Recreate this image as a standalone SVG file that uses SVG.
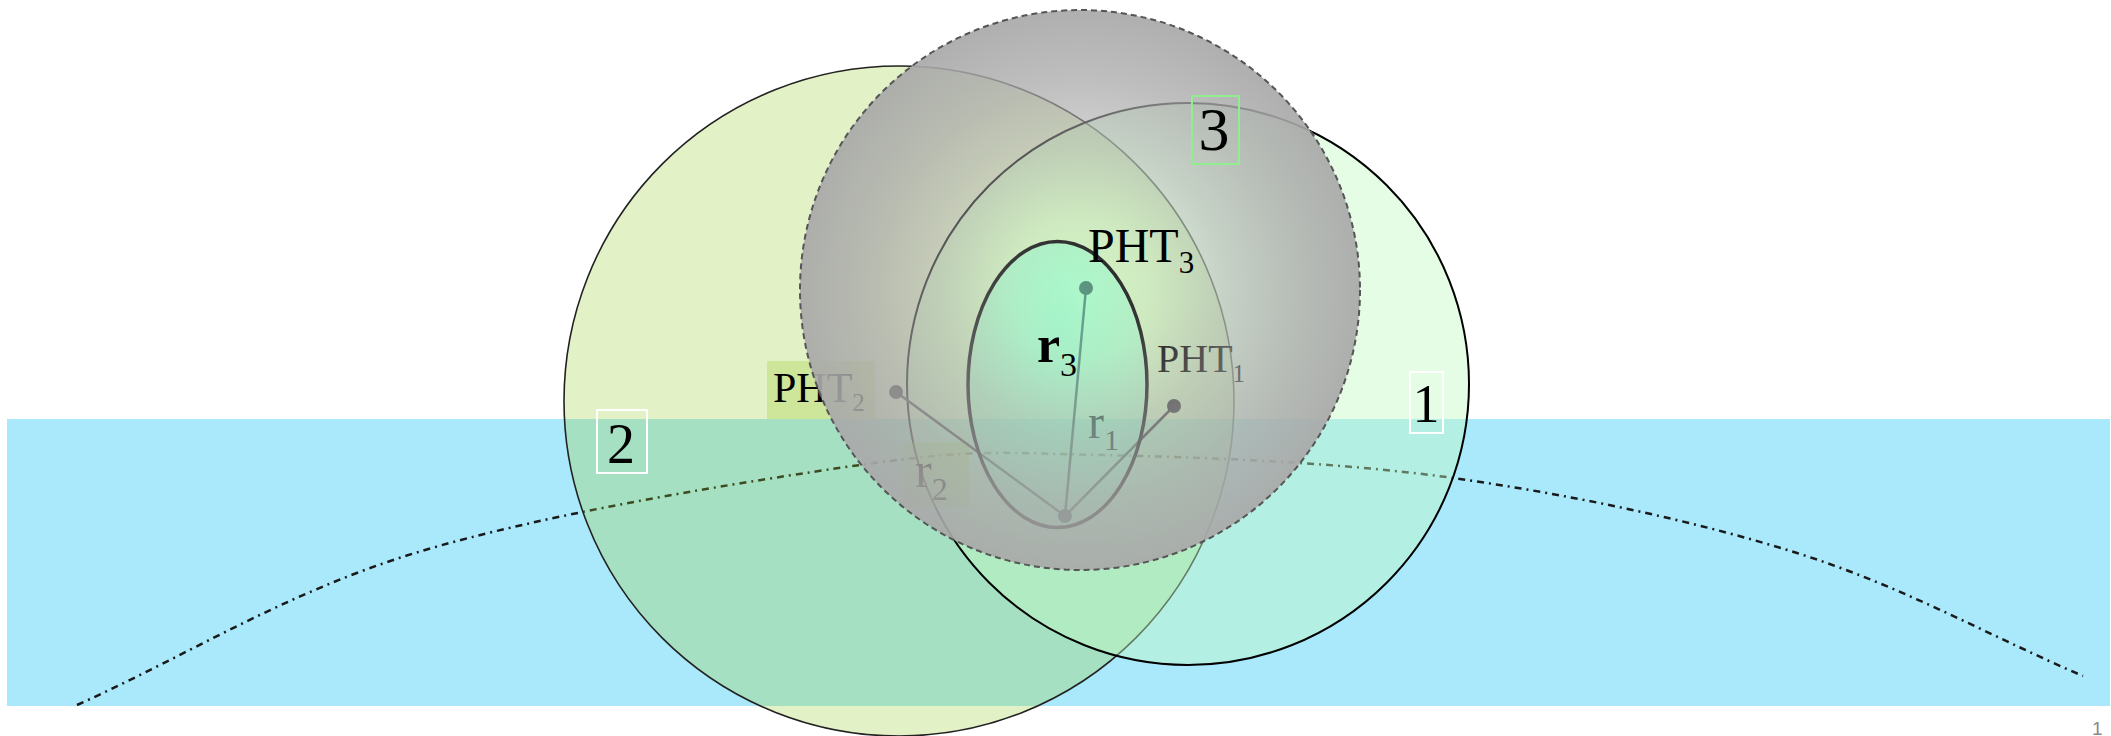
<svg xmlns="http://www.w3.org/2000/svg" width="2111" height="736" viewBox="0 0 2111 736">
<defs>
<radialGradient id="greyGrad" cx="0.5" cy="0.5" r="0.5">
<stop offset="0" stop-color="#a9a9a9" stop-opacity="0.02"/>
<stop offset="0.25" stop-color="#a9a9a9" stop-opacity="0.15"/>
<stop offset="0.5" stop-color="#a9a9a9" stop-opacity="0.5"/>
<stop offset="0.75" stop-color="#a9a9a9" stop-opacity="0.75"/>
<stop offset="1" stop-color="#a9a9a9" stop-opacity="0.93"/>
</radialGradient>
<radialGradient id="ellGrad" cx="0.5" cy="0.3" r="0.7">
<stop offset="0" stop-color="#7fffd4" stop-opacity="0.55"/>
<stop offset="1" stop-color="#7fffd4" stop-opacity="0.25"/>
</radialGradient>
<style>
.serif{font-family:"Liberation Serif","Times New Roman",serif;fill:#000}
.lbl{font-family:"Liberation Serif","Times New Roman",serif;fill:#000;text-anchor:middle}
.labbox{fill:#9acd32;fill-opacity:0.3}
.wbox{fill:none;stroke:#ffffff;stroke-width:2}
.line{stroke:#444;stroke-width:2.5;fill:none}
.dot{fill:#383838}
</style>
</defs>

<g id="ground">
<rect x="7" y="419" width="2103" height="287" fill="#aae8fb"/>
</g>

<g id="horizon">
<path d="M77,705 C189.7,654.3 284.5,593 415,553 C545.5,513 745.8,481.3 860,465 C974.2,448.7 1001.2,452.8 1100,455 C1198.8,457.2 1336.8,461.7 1453,478 C1569.2,494.3 1692,520 1797,553 C1902,586 1987.7,635 2083,676" fill="none" stroke="#1a1a1a" stroke-width="2.5" stroke-dasharray="7 5 2 5"/>
</g>

<g id="node-2">
<circle cx="899" cy="401" r="335" fill="#9acd32" fill-opacity="0.28" stroke="#222" stroke-width="1.6"/>
<rect class="wbox" x="597" y="410" width="50" height="63"/>
<text class="lbl" x="621" y="463" font-size="56">2</text>
</g>

<g id="node-1">
<circle cx="1188" cy="384" r="281" fill="#c1fac1" fill-opacity="0.42" stroke="#000" stroke-width="2"/>
<rect class="wbox" x="1410" y="372" width="33" height="61"/>
<text class="lbl" x="1426" y="422" font-size="54">1</text>
</g>

<g id="label-PHT2">
<rect class="labbox" x="767" y="361" width="108" height="58"/>
<text class="serif" x="773" y="402" font-size="42">PHT<tspan font-size="25" dy="9">2</tspan></text>
</g>

<g id="label-r2">
<rect class="labbox" x="903" y="442" width="66" height="65" fill-opacity="0.15"/>
<text class="serif" x="915" y="487" font-size="50">r<tspan font-size="32" dy="13">2</tspan></text>
</g>

<g id="label-PHT1">
<text class="serif" x="1157" y="372" font-size="40">PHT<tspan font-size="25" dy="10">1</tspan></text>
</g>

<g id="connectors">
<line class="line" x1="896" y1="392" x2="1065" y2="516"/>
<line class="line" x1="1174" y1="406" x2="1065" y2="516"/>
<line class="line" x1="1086" y1="288" x2="1065" y2="516" stroke-width="2"/>
</g>

<g id="node-PHT2-point"><circle class="dot" cx="896" cy="392" r="7"/></g>
<g id="node-PHT1-point"><circle class="dot" cx="1174" cy="406" r="7"/></g>
<g id="node-PHT3-point"><circle class="dot" cx="1086" cy="288" r="7"/></g>
<g id="node-user-point"><circle class="dot" cx="1065" cy="516" r="7"/></g>

<g id="label-r1">
<text class="serif" x="1088" y="438" font-size="48">r<tspan font-size="30" dy="12">1</tspan></text>
</g>

<g id="node-PHT3">
<ellipse cx="1057.5" cy="384.5" rx="89.5" ry="143" fill="url(#ellGrad)" stroke="#222" stroke-width="3.5"/>
</g>

<g id="node-3">
<circle cx="1080" cy="290" r="280" fill="url(#greyGrad)" stroke="#555" stroke-width="2" stroke-dasharray="6 4"/>
</g>

<g id="label-PHT3">
<text class="serif" x="1088" y="262" font-size="48">PHT<tspan font-size="31" dy="11">3</tspan></text>
</g>

<g id="label-r3">
<text class="serif" x="1037" y="362" font-size="52" font-weight="bold">r<tspan font-size="34" font-weight="normal" dy="14">3</tspan></text>
</g>

<g id="label-3">
<rect x="1192" y="96" width="47" height="68" fill="none" stroke="#90ee90" stroke-width="2"/>
<text class="lbl" x="1214" y="150" font-size="62">3</text>
</g>

<text x="2092" y="735" font-family="Liberation Sans, Arial, sans-serif" font-size="19" fill="#8a8a8a">1</text>
</svg>
